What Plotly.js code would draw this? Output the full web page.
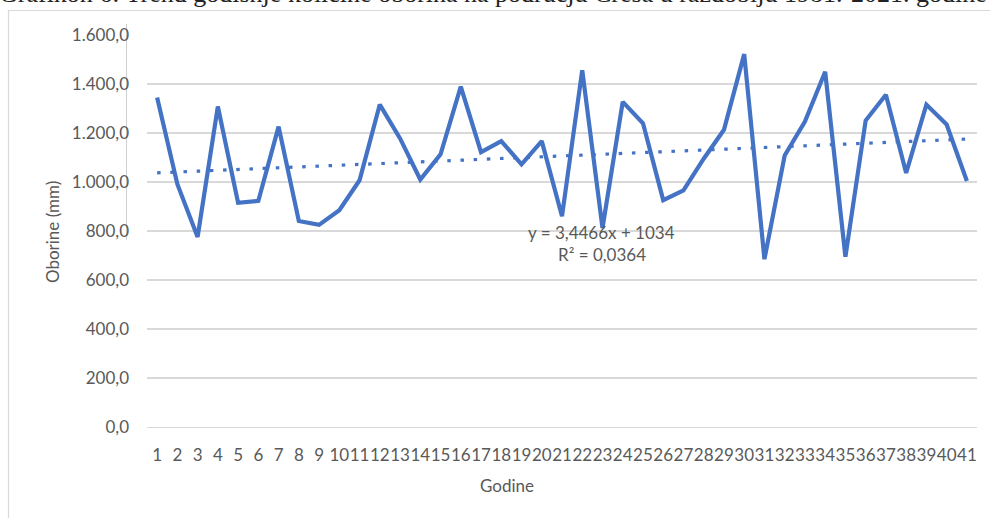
<!DOCTYPE html>
<html>
<head>
<meta charset="utf-8">
<script src="https://cdn.plot.ly/plotly-3.0.1.min.js"></script>
<style>
  html, body { margin: 0; padding: 0; background: #ffffff; }
  #chart { width: 990px; height: 518px; }
</style>
</head>
<body>
<div id="chart"></div>
<script>
// Data
const years = ["1","2","3","4","5","6","7","8","9","10","11","12","13","14","15","16","17","18","19","20",
               "21","22","23","24","25","26","27","28","29","30","31","32","33","34","35","36","37","38","39","40","41"];
const precipitation = [1345, 991, 776, 1308, 915, 923, 1226, 841, 825, 885,
                       1007, 1316, 1178, 1010, 1113, 1389, 1122, 1167, 1072, 1167,
                       860, 1456, 812, 1327, 1240, 926, 966, 1095, 1213, 1522,
                       685, 1108, 1247, 1450, 695, 1251, 1356, 1037, 1316, 1235, 1004];
const yTicks = [0, 200, 400, 600, 800, 1000, 1200, 1400, 1600];
const yTickLabels = ["0,0", "200,0", "400,0", "600,0", "800,0", "1.000,0", "1.200,0", "1.400,0", "1.600,0"];
// Linear trendline as printed on the chart: y = 3,4466x + 1034 ; R² = 0,0364
const trendSlope = 3.4466;
const trendIntercept = 1034;
const equationText = "y = 3,4466x + 1034";
const r2Text = "R² = 0,0364";
const titleText = "Grafikon 6: Trend godišnje količine oborina na području Cresa u razdoblju 1981.-2021. godine";

const trendX = [years[0], years[years.length - 1]];
const trendY = [trendSlope * 1 + trendIntercept, trendSlope * years.length + trendIntercept];

const gray = "#595959";
const font = "Lato, 'Open Sans', sans-serif";

const traces = [
  {
    x: years, y: precipitation, type: "scatter", mode: "lines",
    line: { color: "#4472C4", width: 4.2 },
    hoverinfo: "skip", showlegend: false
  },
  {
    x: trendX, y: trendY, type: "scatter", mode: "lines",
    line: { color: "#4472C4", width: 3.2, dash: "3.5px,9.7px" },
    hoverinfo: "skip", showlegend: false
  }
];

// helpers: pixel -> paper coordinates
const L = 147, R = 13, T = 35, B = 91, W = 990, H = 518;
const pw = W - L - R, ph = H - T - B;
const px = v => (v - L) / pw;
const py = v => (H - B - v) / ph;

const layout = {
  width: W, height: H,
  margin: { l: L, r: R, t: T, b: B, pad: 0 },
  paper_bgcolor: "#ffffff", plot_bgcolor: "#ffffff",
  showlegend: false,
  font: { family: font, color: gray, size: 17 },
  xaxis: {
    type: "category",
    tickmode: "array", tickvals: years, ticktext: years,
    tickangle: 0,
    range: [-0.5, years.length - 0.5],
    showgrid: false, zeroline: false,
    showline: true, linecolor: "#d9d9d9", linewidth: 1.3,
    ticks: "", ticklabelstandoff: 12,
    tickfont: { family: font, color: gray, size: 17 },
    fixedrange: true
  },
  yaxis: {
    range: [0, 1600],
    tickmode: "array", tickvals: yTicks, ticktext: yTickLabels,
    showgrid: true, gridcolor: "#d9d9d9", gridwidth: 1.3,
    zeroline: false, showline: false,
    ticks: "", ticklabelstandoff: 17,
    tickfont: { family: font, color: gray, size: 17 },
    fixedrange: true
  },
  shapes: [
    // chart area border (extends past the photographed window on right and bottom)
    { type: "rect", xref: "paper", yref: "paper",
      x0: px(8.5), x1: px(1100), y0: py(700), y1: py(10.5),
      line: { color: "#d9d9d9", width: 1.2 }, fillcolor: "rgba(0,0,0,0)", layer: "below" },
    // thin vertical line seen left of the plot area
    { type: "line", xref: "paper", yref: "paper",
      x0: px(126.5), x1: px(126.5), y0: py(240), y1: py(24),
      line: { color: "#d0d0d0", width: 1 }, layer: "below" }
  ],
  annotations: [
    { text: titleText, xref: "paper", yref: "paper", x: px(-3), y: py(10),
      xanchor: "left", yanchor: "bottom", showarrow: false,
      font: { family: "'Liberation Serif', 'Times New Roman', serif", size: 26, color: "#222222" } },
    { text: "Oborine (mm)", xref: "paper", yref: "paper", x: px(52), y: py(232),
      xanchor: "center", yanchor: "middle", textangle: -90, showarrow: false,
      font: { family: font, size: 17, color: gray } },
    { text: "Godine", xref: "paper", yref: "paper", x: px(507), y: py(485),
      xanchor: "center", yanchor: "middle", showarrow: false,
      font: { family: font, size: 17, color: gray } },
    { text: equationText, xref: "paper", yref: "paper", x: px(601), y: py(232),
      xanchor: "center", yanchor: "middle", showarrow: false,
      font: { family: font, size: 17, color: gray } },
    { text: r2Text, xref: "paper", yref: "paper", x: px(602), y: py(254),
      xanchor: "center", yanchor: "middle", showarrow: false,
      font: { family: font, size: 17, color: gray } }
  ]
};

Plotly.newPlot("chart", traces, layout, { displayModeBar: false, staticPlot: true });
</script>
</body>
</html>
